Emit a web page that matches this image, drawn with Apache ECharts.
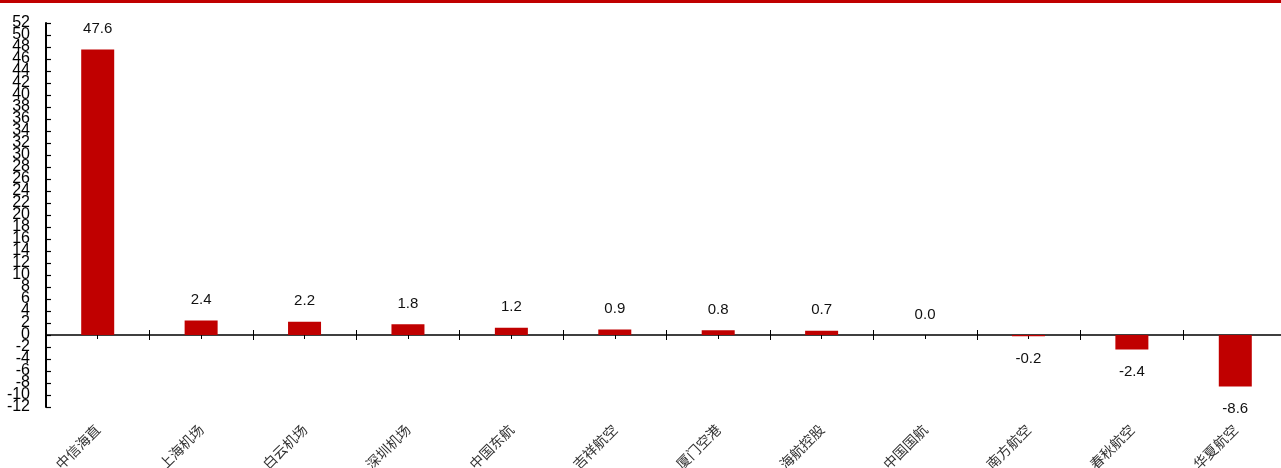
<!DOCTYPE html>
<html><head><meta charset="utf-8">
<script src="https://cdn.jsdelivr.net/npm/echarts@6/dist/echarts.min.js"></script>
<style>html,body{margin:0;padding:0;background:#fff}#c{width:1281px;height:468px}</style>
</head><body><div id="c"></div>
<script>
const categories = ['中信海直','上海机场','白云机场','深圳机场','中国东航','吉祥航空','厦门空港','海航控股','中国国航','南方航空','春秋航空','华夏航空'];
const values = [47.6, 2.4, 2.2, 1.8, 1.2, 0.9, 0.8, 0.7, 0.0, -0.2, -2.4, -8.6];
const yMin = -12, yMax = 52, yStep = 2;

const chart = echarts.init(document.getElementById('c'));
const numFont = 'Liberation Sans, Arial, sans-serif';
const blank = {show:false};
const gridLeft = 46;
const yLabelStyle = {fontSize:16, color:'#000', fontFamily:numFont, margin:16,
  showMinLabel:true, showMaxLabel:true};
const hiddenY = {type:'value', min:yMin, max:yMax, interval:yStep, show:false, position:'right'};
chart.setOption({
  animation:false,
  graphic:[{type:'rect', left:0, top:0, shape:{width:1281, height:3}, style:{fill:'#C00000'}}],
  grid:[
    {left:gridLeft, top:23, width:1241, bottom:61, containLabel:false, outerBoundsMode:'none'},
    {left:gridLeft, top:23 + 2*6, width:1241, bottom:61 + 2*6, containLabel:false, outerBoundsMode:'none'}
  ],
  xAxis:[
    {type:'category', data:categories, position:'bottom', gridIndex:0,
     axisLine:{onZero:true, onZeroAxisIndex:0, lineStyle:{color:'#000', width:1.5}},
     axisTick:{show:true, length:5, lineStyle:{color:'#000'}},
     axisLabel:blank, splitLine:blank},
    {type:'category', data:categories, position:'top', gridIndex:0,
     axisLine:{show:false, onZero:true, onZeroAxisIndex:1},
     axisTick:{show:true, length:5, lineStyle:{color:'#000'}},
     axisLabel:blank, splitLine:blank},
    {type:'category', data:categories, position:'bottom', gridIndex:0,
     axisLine:{show:false, onZero:true, onZeroAxisIndex:2},
     axisTick:{show:true, alignWithLabel:true, length:4, lineStyle:{color:'#000'}},
     axisLabel:blank, splitLine:blank},
    {type:'category', data:categories, position:'bottom', gridIndex:0,
     axisLine:{show:false, onZero:false},
     axisTick:blank,
     axisLabel:{show:true, interval:0, rotate:45, margin:20, fontSize:14,
       fontFamily:'Noto Sans CJK SC', color:'#333'},
     splitLine:blank},
    {type:'category', data:categories, gridIndex:1, show:false}
  ],
  yAxis:[
    {type:'value', min:yMin, max:yMax, interval:yStep*2, gridIndex:0, position:'left',
     axisLine:{show:true, onZero:false, lineStyle:{color:'#000', width:2}},
     axisTick:{show:true, inside:true, length:5, lineStyle:{color:'#000', width:1.2}},
     minorTick:{show:true, splitNumber:2, length:5, lineStyle:{color:'#000', width:1.2}},
     axisLabel:yLabelStyle,
     splitLine:{show:false}, z:10},
    Object.assign({gridIndex:0}, hiddenY),
    Object.assign({gridIndex:0}, hiddenY),
    {type:'value', min:yMin + yStep, max:yMax - yStep, interval:yStep*2, gridIndex:1, position:'left',
     axisLine:{show:false}, axisTick:{show:false}, splitLine:{show:false},
     axisLabel:yLabelStyle}
  ],
  series:[{type:'bar', xAxisIndex:0, yAxisIndex:0, barWidth:33,
    data: values.map(v=>({value:v, label:{position: v<0?'bottom':'top', distance: v<0?15:13}})),
    itemStyle:{color:'#C00000'},
    label:{show:true, fontSize:15, color:'#111', fontFamily:numFont,
      formatter:p=>p.value.toFixed(1)}
  }]
});
</script></body></html>
